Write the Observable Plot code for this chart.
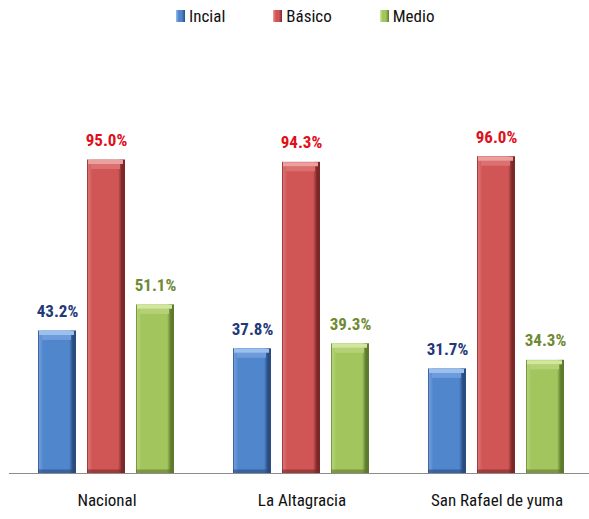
<!DOCTYPE html>
<html>
<head>
<meta charset="utf-8">
<script src="https://cdn.jsdelivr.net/npm/d3@7"></script>
<script src="https://cdn.jsdelivr.net/npm/@observablehq/plot@0.6"></script>
<style>
  html, body { margin: 0; padding: 0; background: #fff; }
  #chart { width: 589px; font-family: 'Liberation Sans Narrow', 'Roboto Condensed', 'DejaVu Sans Condensed', sans-serif; }
  #legend { height: 32px; position: relative; display: flex; align-items: center; padding-left: 176px; box-sizing: border-box; gap: 48px; font-size: 17px; color: #111; }
  .item { display: flex; align-items: center; gap: 4px; }
  .sw { width: 9px; height: 12px; display: inline-block; }
</style>
</head>
<body>
<div id="chart">
  <div id="legend"></div>
</div>
<script>
const groups = ["Nacional", "La Altagracia", "San Rafael de yuma"];
const series = ["Incial", "Básico", "Medio"];
const inicial = [43.2, 37.8, 31.7];
const basico = [95.0, 94.3, 96.0];
const medio = [51.1, 39.3, 34.3];

const faceColors = ["#5086cc", "#d05656", "#a2c55e"];
const bevelColors = ["#6d9bdb", "#dc7070", "#b4d275"];
const lightColors = ["#9cc0ee", "#eba0a0", "#d2e69f"];
const darkColors = ["#2a4c80", "#7c2828", "#5e7a2c"];
const labelColors = ["#1f3a78", "#e0101a", "#6f8a35"];

const seriesValues = [inicial, basico, medio];
const data = groups.flatMap((g, i) => series.map((s, k) => ({group: g, series: s, value: seriesValues[k][i], k})));

// legend
const legend = d3.select("#legend");
series.forEach((s, k) => {
  const it = legend.append("div").attr("class", "item");
  it.append("span").attr("class", "sw")
    .style("background", `linear-gradient(90deg, ${lightColors[k]} 0%, ${faceColors[k]} 30%, ${faceColors[k]} 65%, ${darkColors[k]} 100%)`);
  it.append("span").text(s);
});

const chart = Plot.plot({
  width: 589,
  height: 487,
  marginTop: 111,
  marginBottom: 46,
  marginLeft: 9,
  marginRight: 0,
  fx: {domain: groups, range: [9, 594], padding: 0, axis: null},
  x: {domain: series, paddingInner: 0.224, paddingOuter: 0.6, axis: null},
  y: {domain: [0, 100], axis: null},
  color: {type: "identity"},
  style: {fontFamily: "'Liberation Sans Narrow', 'Roboto Condensed', 'DejaVu Sans Condensed', sans-serif", background: "#fff", overflow: "visible"},
  marks: [
    Plot.barY(data, {fx: "group", x: "series", y: "value", fill: d => `url(#grad-${d.k})`}),
    Plot.tickY(data, {fx: "group", x: "series", y: "value", stroke: d => bevelColors[d.k], strokeWidth: 5, dy: 6.5, insetLeft: 4, insetRight: 5}),
    Plot.tickY(data, {fx: "group", x: "series", y: "value", stroke: d => lightColors[d.k], strokeWidth: 4, dy: 2, insetLeft: 1, insetRight: 2}),
    Plot.tickY(data, {fx: "group", x: "series", y: 0, stroke: d => darkColors[d.k], strokeWidth: 4, dy: -2, strokeOpacity: 0.6}),
    Plot.ruleY([0], {stroke: "#8c8c8c", strokeWidth: 1}),
    Plot.text(data, {fx: "group", x: "series", y: "value", text: d => d.value.toFixed(1) + "%", fill: d => labelColors[d.k], dy: -14, lineAnchor: "bottom", fontSize: 17, fontWeight: "bold"}),
    Plot.axisFx({anchor: "bottom", tickSize: 0, tickPadding: 20, fontSize: 17, label: null, color: "#111"})
  ]
});

// gradient defs for the bevelled bars
const ns = "http://www.w3.org/2000/svg";
const defs = document.createElementNS(ns, "defs");
faceColors.forEach((c, k) => {
  const g = document.createElementNS(ns, "linearGradient");
  g.setAttribute("id", `grad-${k}`);
  g.setAttribute("x1", "0"); g.setAttribute("x2", "1"); g.setAttribute("y1", "0"); g.setAttribute("y2", "0");
  [[0, darkColors[k]], [0.04, bevelColors[k]], [0.14, c], [0.82, c], [0.92, darkColors[k]], [1, darkColors[k]]].forEach(([o, col]) => {
    const s = document.createElementNS(ns, "stop");
    s.setAttribute("offset", o);
    s.setAttribute("stop-color", col);
    g.appendChild(s);
  });
  defs.appendChild(g);
});
chart.insertBefore(defs, chart.firstChild);
document.getElementById("chart").appendChild(chart);
</script>
</body>
</html>
